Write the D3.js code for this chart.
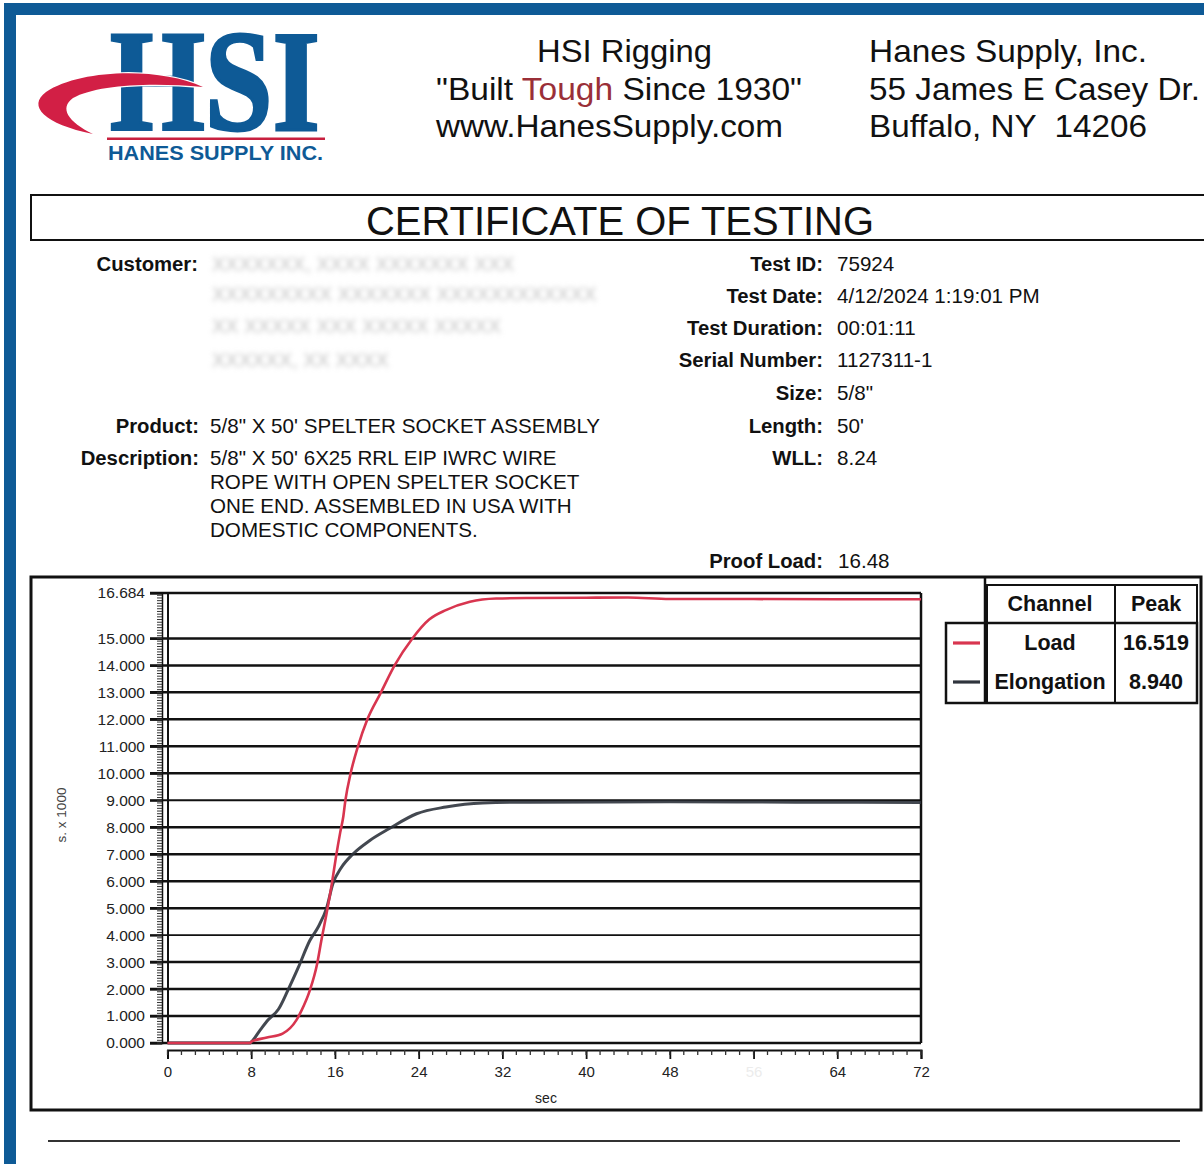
<!DOCTYPE html>
<html>
<head>
<meta charset="utf-8">
<script src="https://cdn.jsdelivr.net/npm/d3@7"></script>
<style>
  html, body { margin: 0; padding: 0; background: #fff; }
  svg { display: block; font-family: "Liberation Sans", Arial, sans-serif; }
  text { white-space: pre; }
</style>
</head>
<body>
<script>
// ---------------- DATA ----------------
const loadTime  = [0, 7.9, 8.0, 9.5, 11.0, 12.3, 12.8, 13.6, 14.3, 14.7, 15.2, 15.7, 16.1, 16.5, 16.8, 17.0, 17.5, 18.2, 19.1, 20.4, 21.7, 23.4, 25.0, 26.6, 28.9, 31.4, 34.6, 40.0, 44.0, 48.0, 56.0, 64.0, 72.0];
const loadValue = [0, 0, 0.05, 0.2, 0.35, 0.84, 1.2, 1.95, 2.94, 3.8, 4.8, 5.9, 6.9, 7.8, 8.4, 9.0, 10.0, 11.0, 12.0, 13.0, 14.0, 15.0, 15.7, 16.05, 16.36, 16.48, 16.5, 16.51, 16.519, 16.46, 16.46, 16.45, 16.45];
const elongTime  = [0, 7.9, 8.0, 8.8, 9.6, 10.6, 11.5, 12.5, 13.6, 14.4, 15.2, 15.8, 16.6, 17.7, 19.3, 21.2, 23.8, 26.6, 30.1, 34.6, 48.0, 60.0, 72.0];
const elongValue = [0, 0, 0.03, 0.45, 0.85, 1.25, 1.95, 2.8, 3.8, 4.3, 5.0, 5.9, 6.5, 7.0, 7.5, 7.95, 8.5, 8.75, 8.9, 8.93, 8.94, 8.93, 8.92];
const yTicks = [0, 1, 2, 3, 4, 5, 6, 7, 8, 9, 10, 11, 12, 13, 14, 15, 16.684];
const xTicks = [0, 8, 16, 24, 32, 40, 48, 56, 64, 72];
const xTickLabels = ["0", "8", "16", "24", "32", "40", "48", "56", "64", "72"];
const channels = ["Load", "Elongation"];
const peaks = ["16.519", "8.940"];
const channelColors = ["#d8354f", "#2f343d"];
const infoLabels = ["Test ID:", "Test Date:", "Test Duration:", "Serial Number:", "Size:", "Length:", "WLL:"];
const infoValues = ["75924", "4/12/2024 1:19:01 PM", "00:01:11", "1127311-1", "5/8\"", "50'", "8.24"];
const descLines = ["5/8\" X 50' 6X25 RRL EIP IWRC WIRE", "ROPE WITH OPEN SPELTER SOCKET", "ONE END. ASSEMBLED IN USA WITH", "DOMESTIC COMPONENTS."];
const customerLines = ["XXXXXXX, XXXX XXXXXXX XXX", "XXXXXXXXX XXXXXXX XXXXXXXXXXXX", "XX XXXXX XXX XXXXX XXXXX", "XXXXXX, XX XXXX"];

// ---------------- PAGE ----------------
const W = 1204, H = 1164;
const svg = d3.select("body").append("svg").attr("width", W).attr("height", H);
const defs = svg.append("defs");
defs.append("filter").attr("id", "blur").append("feGaussianBlur").attr("stdDeviation", 2.6);

svg.append("rect").attr("width", W).attr("height", H).attr("fill", "#fff");
const blue = "#0e5a96";
svg.append("rect").attr("x", 4).attr("y", 3).attr("width", W).attr("height", 12).attr("fill", blue);
svg.append("rect").attr("x", 4).attr("y", 3).attr("width", 12).attr("height", H).attr("fill", blue);

// ---------------- LOGO ----------------
svg.append("text").attr("x", 110).attr("y", 130)
  .attr("font-family", "'Liberation Serif', 'DejaVu Serif', serif").attr("font-weight", "bold")
  .attr("font-size", 144).attr("textLength", 210).attr("lengthAdjust", "spacingAndGlyphs")
  .attr("fill", blue).attr("stroke", blue).attr("stroke-width", 3).text("HSI");
svg.append("path")
  .attr("d", "M203,87 C160,67 80,69 46,92 C27,106 44,124 93,134 C68,122 59,108 73,98 C96,85 150,82 203,87 Z")
  .attr("fill", "#d21f45").attr("stroke", "#fff").attr("stroke-width", 2.5).attr("paint-order", "stroke");
svg.append("rect").attr("x", 107).attr("y", 137.5).attr("width", 218).attr("height", 2.5).attr("fill", "#c8203f");
svg.append("text").attr("x", 108).attr("y", 160)
  .attr("font-weight", "bold").attr("font-size", 20).attr("textLength", 215).attr("lengthAdjust", "spacingAndGlyphs")
  .attr("fill", blue).text("HANES SUPPLY INC.");

// ---------------- HEADER TEXT ----------------
function htext(x, y, len, txt) {
  return svg.append("text").attr("x", x).attr("y", y).attr("font-size", 32)
    .attr("textLength", len).attr("lengthAdjust", "spacingAndGlyphs").attr("fill", "#111").text(txt);
}
htext(537, 62, 175, "HSI Rigging");
const t2 = svg.append("text").attr("x", 436).attr("y", 100).attr("font-size", 32)
  .attr("textLength", 366).attr("lengthAdjust", "spacingAndGlyphs").attr("fill", "#111");
t2.append("tspan").text("\"Built ");
t2.append("tspan").attr("fill", "#9a2f38").text("Tough");
t2.append("tspan").text(" Since 1930\"");
htext(436, 137, 347, "www.HanesSupply.com");
htext(869, 62, 278, "Hanes Supply, Inc.");
htext(869, 100, 331, "55 James E Casey Dr.");
htext(869, 137, 278, "Buffalo, NY  14206");

// ---------------- TITLE ----------------
svg.append("rect").attr("x", 31).attr("y", 195).attr("width", 1180).attr("height", 45)
  .attr("fill", "none").attr("stroke", "#111").attr("stroke-width", 2);
svg.append("text").attr("x", 366).attr("y", 235).attr("font-size", 41)
  .attr("textLength", 508).attr("lengthAdjust", "spacingAndGlyphs").attr("fill", "#111").text("CERTIFICATE OF TESTING");

// ---------------- INFO ----------------
function label(x, y, txt) {
  return svg.append("text").attr("x", x).attr("y", y).attr("text-anchor", "end")
    .attr("font-weight", "bold").attr("font-size", 20.3).attr("fill", "#111").text(txt);
}
function value(x, y, txt) {
  return svg.append("text").attr("x", x).attr("y", y).attr("font-size", 20.6).attr("fill", "#111").text(txt);
}
label(198, 271, "Customer:");
const custY = [271, 301, 333, 367];
customerLines.forEach((c, i) => {
  svg.append("text").attr("x", 212).attr("y", custY[i]).attr("font-size", 20).attr("fill", "#c4c4c4")
    .attr("filter", "url(#blur)").text(c);
});
const infoY = [271, 303, 335, 367, 400, 433, 465];
infoLabels.forEach((l, i) => { label(823, infoY[i], l); value(837, infoY[i], infoValues[i]); });
label(199, 433, "Product:");
value(210, 433, "5/8\" X 50' SPELTER SOCKET ASSEMBLY");
label(199, 465, "Description:");
descLines.forEach((d, i) => value(210, 465 + i * 24, d));
label(823, 568, "Proof Load:");
value(838, 568, "16.48");

// ---------------- CHART FRAME ----------------
svg.append("rect").attr("x", 31).attr("y", 577).attr("width", 1170).attr("height", 533)
  .attr("fill", "none").attr("stroke", "#111").attr("stroke-width", 3);

// ---------------- SCALES ----------------
const x = d3.scaleLinear().domain([0, 72]).range([167.5, 921]);
const y = d3.scaleLinear().domain([0, 16.684]).range([1043, 593]);

// gridlines
svg.append("g").selectAll("line").data(yTicks).join("line")
  .attr("x1", 150).attr("x2", 921)
  .attr("y1", d => y(d)).attr("y2", d => y(d))
  .attr("stroke", "#111").attr("stroke-width", d => (d === 4 || d === 9) ? 1.8 : 2.5);

// y axis (major)
const yAxisG = svg.append("g").attr("transform", "translate(162,0)")
  .call(d3.axisLeft(y).tickValues(yTicks).tickSize(12).tickPadding(5).tickFormat(d3.format(".3f")));
yAxisG.select(".domain").attr("stroke", "#111").attr("stroke-width", 1.5);
yAxisG.selectAll(".tick line").attr("stroke", "#111").attr("stroke-width", 2);
yAxisG.selectAll(".tick text").attr("font-size", 15.5).attr("fill", "#222")
  .attr("font-family", "'Liberation Sans', Arial, sans-serif");
// y minor ticks
const yMinor = d3.range(0, 16.684, 0.1);
svg.append("g").selectAll("line").data(yMinor).join("line")
  .attr("x1", 157).attr("x2", 162).attr("y1", d => y(d)).attr("y2", d => y(d))
  .attr("stroke", "#333").attr("stroke-width", 1);

// plot borders
svg.append("line").attr("x1", 168).attr("x2", 168).attr("y1", y(16.684)).attr("y2", y(0)).attr("stroke", "#111").attr("stroke-width", 2);
svg.append("line").attr("x1", 921).attr("x2", 921).attr("y1", y(16.684)).attr("y2", y(0)).attr("stroke", "#111").attr("stroke-width", 2.5);

// x axis
const xAxisG = svg.append("g").attr("transform", "translate(0,1050)")
  .call(d3.axisBottom(x).tickValues(xTicks).tickSize(9).tickPadding(7).tickFormat((d, i) => xTickLabels[i]));
xAxisG.select(".domain").attr("stroke", "#111").attr("stroke-width", 2);
xAxisG.selectAll(".tick line").attr("stroke", "#111").attr("stroke-width", 1.8);
xAxisG.selectAll(".tick text").attr("font-size", 15).attr("fill", (d) => d === 56 ? "#ececec" : "#222")
  .attr("font-family", "'Liberation Sans', Arial, sans-serif");
const xMinor = d3.range(0, 72.001, 4 / 3);
svg.append("g").selectAll("line").data(xMinor).join("line")
  .attr("x1", d => x(d)).attr("x2", d => x(d)).attr("y1", 1050).attr("y2", 1055)
  .attr("stroke", "#333").attr("stroke-width", 1.3);

svg.append("text").attr("x", 546).attr("y", 1103).attr("text-anchor", "middle")
  .attr("font-size", 14).attr("fill", "#222").text("sec");
svg.append("text").attr("transform", "translate(66,815) rotate(-90)").attr("text-anchor", "middle")
  .attr("font-size", 13.5).attr("fill", "#444").text("s. x 1000");

// ---------------- LINES ----------------
const line = d3.line().x(d => x(d[0])).y(d => y(d[1])).curve(d3.curveMonotoneX);
const elongData = elongTime.map((t, i) => [t, elongValue[i]]);
const loadData = loadTime.map((t, i) => [t, loadValue[i]]);
svg.append("path").datum(elongData).attr("d", line).attr("fill", "none")
  .attr("stroke", channelColors[1]).attr("stroke-width", 3).attr("stroke-opacity", 0.9);
svg.append("path").datum(loadData).attr("d", line).attr("fill", "none")
  .attr("stroke", channelColors[0]).attr("stroke-width", 2.6);

// ---------------- LEGEND TABLE ----------------
const lg = svg.append("g").attr("stroke", "#111").attr("fill", "none");
lg.append("line").attr("x1", 985).attr("x2", 985).attr("y1", 577).attr("y2", 703).attr("stroke-width", 2.5);
lg.append("rect").attr("x", 987).attr("y", 585).attr("width", 210).attr("height", 38).attr("stroke-width", 2);
lg.append("rect").attr("x", 946).attr("y", 623).attr("width", 251).attr("height", 80).attr("stroke-width", 2.5);
lg.append("line").attr("x1", 987).attr("x2", 987).attr("y1", 623).attr("y2", 703).attr("stroke-width", 2);
lg.append("line").attr("x1", 1115).attr("x2", 1115).attr("y1", 585).attr("y2", 703).attr("stroke-width", 2);

const headY = 611, rowY = [650, 689];
svg.append("text").attr("x", 1050).attr("y", headY).attr("text-anchor", "middle")
  .attr("font-weight", "bold").attr("font-size", 21.5).attr("fill", "#111").text("Channel");
svg.append("text").attr("x", 1156).attr("y", headY).attr("text-anchor", "middle")
  .attr("font-weight", "bold").attr("font-size", 21.5).attr("fill", "#111").text("Peak");
channels.forEach((c, i) => {
  svg.append("line").attr("x1", 953).attr("x2", 980).attr("y1", rowY[i] - 7).attr("y2", rowY[i] - 7)
    .attr("stroke", channelColors[i]).attr("stroke-width", 3.2);
  svg.append("text").attr("x", 1050).attr("y", rowY[i]).attr("text-anchor", "middle")
    .attr("font-weight", "bold").attr("font-size", 21.5).attr("fill", "#111").text(c);
  svg.append("text").attr("x", 1156).attr("y", rowY[i]).attr("text-anchor", "middle")
    .attr("font-weight", "bold").attr("font-size", 21.5).attr("fill", "#111").text(peaks[i]);
});

// bottom rule
svg.append("line").attr("x1", 48).attr("x2", 1180).attr("y1", 1141).attr("y2", 1141)
  .attr("stroke", "#333").attr("stroke-width", 2);
</script>
</body>
</html>
